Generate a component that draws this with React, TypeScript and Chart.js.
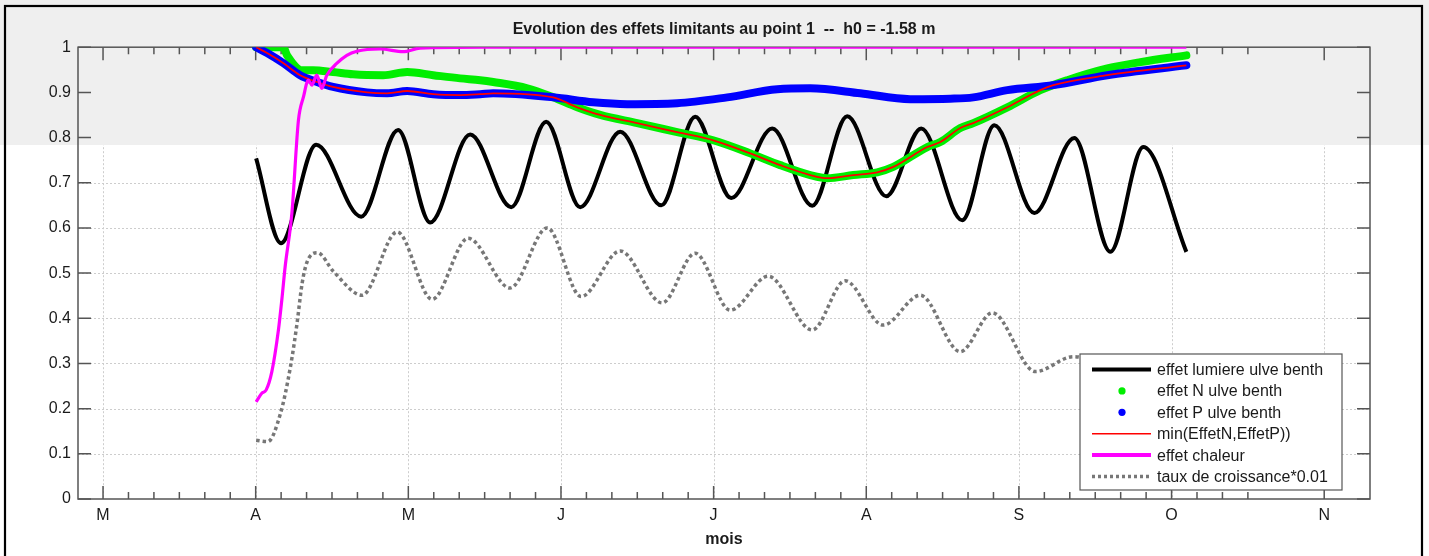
import { useEffect, useRef } from "react";
import { Chart, registerables } from "chart.js";

Chart.register(...registerables);

// ---------- text ----------
const TITLE = "Evolution des effets limitants au point 1  --  h0 = -1.58 m";
const X_TITLE = "mois";
const MONTH_TICKS = [3, 4, 5, 6, 7, 8, 9, 10, 11];
const MONTH_LABELS = ["M", "A", "M", "J", "J", "A", "S", "O", "N"];
const X_MIN = 2.836;
const X_MAX = 11.3;
const MINOR_TICK_END = 10.5;

const LABELS = [
  "effet lumiere ulve benth",
  "effet N ulve benth",
  "effet P ulve benth",
  "min(EffetN,EffetP))",
  "effet chaleur",
  "taux de croissance*0.01",
];

// ---------- data (x in months, 3 = March) ----------
const LUMIERE_X = [4.003, 4.166, 4.396, 4.691, 4.933, 5.143, 5.405, 5.674, 5.903, 6.126, 6.388, 6.657, 6.879, 7.115, 7.384, 7.646, 7.875, 8.131, 8.36, 8.629, 8.839, 9.101, 9.363, 9.599, 9.815, 10.097];
const LUMIERE_Y = [0.754, 0.566, 0.784, 0.625, 0.817, 0.612, 0.807, 0.646, 0.835, 0.646, 0.813, 0.65, 0.846, 0.666, 0.82, 0.649, 0.847, 0.67, 0.82, 0.617, 0.827, 0.633, 0.799, 0.547, 0.779, 0.547];

const N_X = [4.003, 4.18, 4.206, 4.304, 4.376, 4.507, 4.638, 4.835, 4.992, 5.163, 5.339, 5.471, 5.556, 5.779, 5.949, 6.106, 6.257, 6.499, 6.761, 6.997, 7.24, 7.436, 7.633, 7.744, 7.915, 8.072, 8.177, 8.4, 8.485, 8.616, 8.701, 8.924, 9.14, 9.317, 9.579, 9.796, 10.097];
const N_Y = [1.0, 1.0, 0.982, 0.949, 0.949, 0.945, 0.94, 0.938, 0.945, 0.938, 0.931, 0.927, 0.923, 0.909, 0.889, 0.867, 0.85, 0.832, 0.812, 0.794, 0.765, 0.739, 0.717, 0.71, 0.717, 0.723, 0.735, 0.779, 0.79, 0.821, 0.832, 0.867, 0.905, 0.927, 0.953, 0.967, 0.982];

const P_X = [4.003, 4.075, 4.18, 4.291, 4.402, 4.507, 4.73, 4.861, 4.992, 5.163, 5.339, 5.471, 5.556, 5.949, 6.211, 6.434, 6.761, 7.089, 7.417, 7.633, 7.961, 8.288, 8.55, 8.701, 8.924, 9.225, 9.579, 10.097];
const P_Y = [1.0, 0.987, 0.965, 0.938, 0.923, 0.912, 0.9, 0.898, 0.903, 0.896, 0.894, 0.896, 0.898, 0.889, 0.878, 0.874, 0.876, 0.889, 0.907, 0.909, 0.898, 0.885, 0.886, 0.889, 0.905, 0.916, 0.938, 0.96];

const MIN_X = [4.003, 4.075, 4.18, 4.291, 4.402, 4.507, 4.73, 4.861, 4.992, 5.163, 5.339, 5.471, 5.556, 5.949, 6.106, 6.257, 6.499, 6.761, 6.997, 7.24, 7.436, 7.633, 7.744, 7.915, 8.072, 8.177, 8.4, 8.485, 8.616, 8.701, 8.924, 9.14, 9.225, 9.579, 10.097];
const MIN_Y = [1.0, 0.987, 0.965, 0.938, 0.923, 0.912, 0.9, 0.898, 0.903, 0.896, 0.894, 0.896, 0.898, 0.889, 0.867, 0.85, 0.832, 0.812, 0.794, 0.765, 0.739, 0.717, 0.71, 0.717, 0.723, 0.735, 0.779, 0.79, 0.821, 0.832, 0.867, 0.905, 0.916, 0.938, 0.96];

const CHALEUR_X = [4.003, 4.04, 4.068, 4.106, 4.149, 4.171, 4.193, 4.237, 4.28, 4.313, 4.345, 4.368, 4.4, 4.433, 4.466, 4.531, 4.597, 4.663, 4.815, 4.966, 5.077, 5.5, 6.5, 7.5, 8.5, 9.5, 10.097];
const CHALEUR_Y = [0.215, 0.234, 0.241, 0.282, 0.374, 0.44, 0.514, 0.632, 0.838, 0.89, 0.927, 0.916, 0.938, 0.909, 0.938, 0.964, 0.982, 0.991, 0.996, 0.99, 0.998, 1.0, 1.0, 1.0, 1.0, 1.0, 1.0];

const TAUX_X = [4.003, 4.079, 4.163, 4.228, 4.271, 4.304, 4.337, 4.405, 4.511, 4.697, 4.927, 5.156, 5.392, 5.667, 5.91, 6.132, 6.388, 6.663, 6.879, 7.109, 7.358, 7.646, 7.862, 8.111, 8.354, 8.616, 8.826, 9.108, 9.357, 9.599, 9.861, 10.097];
const TAUX_Y = [0.13, 0.127, 0.19, 0.293, 0.389, 0.477, 0.525, 0.545, 0.503, 0.451, 0.591, 0.442, 0.577, 0.467, 0.6, 0.448, 0.549, 0.434, 0.544, 0.418, 0.493, 0.374, 0.483, 0.385, 0.451, 0.326, 0.412, 0.282, 0.315, 0.3, 0.31, 0.3];

// ---------- styles ----------
const FONT = "'Liberation Sans', Arial, Helvetica, sans-serif";
const BAND_BOTTOM = 145;
const GRAY_BAND = "#efefef";
const AXIS_COLOR = "#555555";
const TEXT_COLOR = "#1a1a1a";

const LEGEND_STYLE = [
  { kind: "line", color: "#000000", width: 4, dash: [] as number[] },
  { kind: "dot", color: "#00ee00", width: 0, dash: [] as number[] },
  { kind: "dot", color: "#0000ff", width: 0, dash: [] as number[] },
  { kind: "line", color: "#ff0000", width: 1.5, dash: [] as number[] },
  { kind: "line", color: "#ff00ff", width: 4, dash: [] as number[] },
  { kind: "line", color: "#777777", width: 3.5, dash: [3, 3] },
];

const pts = (xs: number[], ys: number[]) => xs.map((x, i) => ({ x, y: ys[i] }));

const decorPlugin = {
  id: "decor",
  beforeDraw(chart: any) {
    const { ctx, width, height } = chart;
    ctx.save();
    ctx.fillStyle = "#ffffff";
    ctx.fillRect(0, 0, width, height);
    ctx.fillStyle = GRAY_BAND;
    ctx.fillRect(0, 0, width, BAND_BOTTOM);
    ctx.restore();
  },
  beforeDatasetsDraw(chart: any) {
    const { ctx, chartArea: a, scales } = chart;
    const xs = scales.x;
    const ys = scales.y;
    // dotted grid, only below the gray band
    ctx.save();
    ctx.beginPath();
    ctx.rect(a.left, BAND_BOTTOM, a.right - a.left, a.bottom - BAND_BOTTOM);
    ctx.clip();
    ctx.setLineDash([2, 2]);
    ctx.strokeStyle = "#cdcdcd";
    ctx.lineWidth = 1;
    xs.ticks.forEach((t: any) => {
      const px = Math.round(xs.getPixelForValue(t.value)) + 0.5;
      ctx.beginPath();
      ctx.moveTo(px, a.top);
      ctx.lineTo(px, a.bottom);
      ctx.stroke();
    });
    ys.ticks.forEach((t: any) => {
      const py = Math.round(ys.getPixelForValue(t.value)) + 0.5;
      ctx.beginPath();
      ctx.moveTo(a.left, py);
      ctx.lineTo(a.right, py);
      ctx.stroke();
    });
    ctx.restore();

    // axis box + inward ticks
    ctx.save();
    ctx.strokeStyle = AXIS_COLOR;
    ctx.lineWidth = 1.5;
    ctx.strokeRect(a.left, a.top, a.right - a.left, a.bottom - a.top);
    ctx.beginPath();
    xs.ticks.forEach((t: any) => {
      const px = xs.getPixelForValue(t.value);
      ctx.moveTo(px, a.bottom);
      ctx.lineTo(px, a.bottom - 13);
      ctx.moveTo(px, a.top);
      ctx.lineTo(px, a.top + 13);
    });
    for (let k = Math.ceil(xs.min * 6); k <= MINOR_TICK_END * 6; k++) {
      if (k % 6 === 0) continue;
      const px = xs.getPixelForValue(k / 6);
      if (px <= a.left + 1) continue;
      ctx.moveTo(px, a.bottom);
      ctx.lineTo(px, a.bottom - 7);
      ctx.moveTo(px, a.top);
      ctx.lineTo(px, a.top + 7);
    }
    ys.ticks.forEach((t: any) => {
      const py = ys.getPixelForValue(t.value);
      ctx.moveTo(a.left, py);
      ctx.lineTo(a.left + 13, py);
      ctx.moveTo(a.right, py);
      ctx.lineTo(a.right - 13, py);
    });
    ctx.stroke();
    ctx.restore();
  },
  afterDatasetsDraw(chart: any) {
    const { ctx, chartArea: a } = chart;
    const right = a.right - 28;
    const bottom = a.bottom - 9;
    const w = 262;
    const h = 136;
    const left = right - w;
    const top = bottom - h;
    ctx.save();
    ctx.fillStyle = "#ffffff";
    ctx.fillRect(left, top, w, h);
    ctx.strokeStyle = AXIS_COLOR;
    ctx.lineWidth = 1.2;
    ctx.strokeRect(left, top, w, h);
    ctx.font = `16px ${FONT}`;
    ctx.textBaseline = "middle";
    ctx.textAlign = "left";
    LABELS.forEach((lab, i) => {
      const y = top + 15.5 + i * 21.4;
      const st = LEGEND_STYLE[i];
      if (st.kind === "line") {
        ctx.strokeStyle = st.color;
        ctx.lineWidth = st.width;
        ctx.setLineDash(st.dash);
        ctx.beginPath();
        ctx.moveTo(left + 12, y);
        ctx.lineTo(left + 71, y);
        ctx.stroke();
        ctx.setLineDash([]);
      } else {
        ctx.fillStyle = st.color;
        ctx.beginPath();
        ctx.arc(left + 42, y, 3.6, 0, Math.PI * 2);
        ctx.fill();
      }
      ctx.fillStyle = TEXT_COLOR;
      ctx.fillText(lab, left + 77, y + 1);
    });
    ctx.restore();
  },
  afterDraw(chart: any) {
    const { ctx } = chart;
    ctx.save();
    ctx.strokeStyle = "#000000";
    ctx.lineWidth = 2.2;
    ctx.strokeRect(5, 6, 1417, 600);
    ctx.restore();
  },
};

export default function App() {
  const ref = useRef<HTMLCanvasElement>(null);
  useEffect(() => {
    const base = { pointRadius: 0, fill: false, cubicInterpolationMode: "monotone" as const, borderJoinStyle: "round" as const };
    const chart = new Chart(ref.current as HTMLCanvasElement, {
      type: "line",
      data: {
        datasets: [
          { ...base, label: LABELS[0], data: pts(LUMIERE_X, LUMIERE_Y), borderColor: "#000000", borderWidth: 4, order: 6 },
          { ...base, label: LABELS[1], data: pts(N_X, N_Y), borderColor: "#00ee00", borderWidth: 8, borderCapStyle: "round", order: 5 },
          { ...base, label: LABELS[2], data: pts(P_X, P_Y), borderColor: "#0000ff", borderWidth: 8, borderCapStyle: "round", order: 4 },
          { ...base, label: LABELS[3], data: pts(MIN_X, MIN_Y), borderColor: "#ff0000", borderWidth: 1.8, order: 3 },
          { ...base, label: LABELS[4], data: pts(CHALEUR_X, CHALEUR_Y), borderColor: "#ff00ff", borderWidth: 3.2, order: 2 },
          { ...base, label: LABELS[5], data: pts(TAUX_X, TAUX_Y), borderColor: "#777777", borderWidth: 3.5, borderDash: [3.5, 3], order: 1 },
        ],
      },
      options: {
        animation: false,
        responsive: false,
        devicePixelRatio: 1,
        layout: { padding: { left: 0, right: 59, top: 0, bottom: 0 } },
        plugins: {
          legend: { display: false },
          tooltip: { enabled: false },
          title: {
            display: true,
            text: TITLE,
            fullSize: false,
            color: TEXT_COLOR,
            font: { family: FONT, size: 16, weight: "bold", lineHeight: 1.2 },
            padding: { top: 20, bottom: 8 },
          },
        },
        scales: {
          x: {
            type: "linear",
            min: X_MIN,
            max: X_MAX,
            afterBuildTicks: (s: any) => {
              s.ticks = MONTH_TICKS.map((v) => ({ value: v }));
            },
            afterFit: (s: any) => {
              s.height = 57;
            },
            ticks: {
              callback: (_v: any, i: number) => MONTH_LABELS[i],
              autoSkip: false,
              maxRotation: 0,
              padding: 7,
              color: TEXT_COLOR,
              font: { family: FONT, size: 16 },
            },
            grid: { display: false, drawTicks: false },
            border: { display: false },
            title: {
              display: true,
              text: X_TITLE,
              color: TEXT_COLOR,
              font: { family: FONT, size: 16, weight: "bold", lineHeight: 1.2 },
              padding: { top: 0, bottom: 7 },
            },
          },
          y: {
            type: "linear",
            min: 0,
            max: 1,
            afterFit: (s: any) => {
              s.width = 78;
            },
            ticks: {
              stepSize: 0.1,
              callback: (v: any) => String(Math.round(Number(v) * 10) / 10),
              padding: 7,
              color: TEXT_COLOR,
              font: { family: FONT, size: 16 },
            },
            grid: { display: false, drawTicks: false },
            border: { display: false },
          },
        },
      },
      plugins: [decorPlugin],
    } as any);
    return () => chart.destroy();
  }, []);
  return (
    <div style={{ position: "fixed", left: 0, top: 0, width: 1429, height: 556, overflow: "hidden", background: "#fff" }}>
      <canvas ref={ref} width={1429} height={556} style={{ display: "block", width: 1429, height: 556 }} />
    </div>
  );
}
